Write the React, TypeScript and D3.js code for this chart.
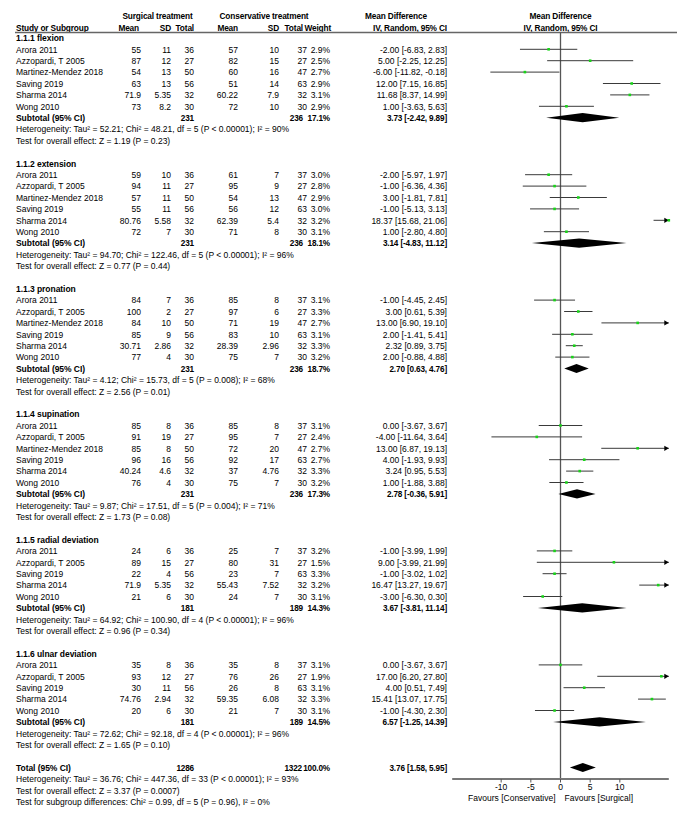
import React from "react";
import * as d3 from "d3";

const groupLabels = [
  "1.1.1 flexion",
  "1.1.2 extension",
  "1.1.3 pronation",
  "1.1.4 supination",
  "1.1.5 radial deviation",
  "1.1.6 ulnar deviation",
];

const studyGroup = [0,0,0,0,0,0, 1,1,1,1,1,1, 2,2,2,2,2,2, 3,3,3,3,3,3, 4,4,4,4,4, 5,5,5,5,5];
const studyNames = [
  "Arora 2011","Azzopardi, T 2005","Martinez-Mendez 2018","Saving 2019","Sharma 2014","Wong 2010",
  "Arora 2011","Azzopardi, T 2005","Martinez-Mendez 2018","Saving 2019","Sharma 2014","Wong 2010",
  "Arora 2011","Azzopardi, T 2005","Martinez-Mendez 2018","Saving 2019","Sharma 2014","Wong 2010",
  "Arora 2011","Azzopardi, T 2005","Martinez-Mendez 2018","Saving 2019","Sharma 2014","Wong 2010",
  "Arora 2011","Azzopardi, T 2005","Saving 2019","Sharma 2014","Wong 2010",
  "Arora 2011","Azzopardi, T 2005","Saving 2019","Sharma 2014","Wong 2010",
];
const surgMean = [55,87,54,63,71.9,73, 59,94,57,55,80.76,72, 84,100,84,85,30.71,77, 85,91,85,96,40.24,76, 24,89,22,71.9,21, 35,93,30,74.76,20];
const surgSD = [11,12,13,13,5.35,8.2, 10,11,11,11,5.58,7, 7,2,10,9,2.86,4, 8,19,8,16,4.6,4, 6,15,4,5.35,6, 8,12,11,2.94,6];
const surgN = [36,27,50,56,32,30, 36,27,50,56,32,30, 36,27,50,56,32,30, 36,27,50,56,32,30, 36,27,56,32,30, 36,27,56,32,30];
const consMean = [57,82,60,51,60.22,72, 61,95,54,56,62.39,71, 85,97,71,83,28.39,75, 85,95,72,92,37,75, 25,80,23,55.43,24, 35,76,26,59.35,21];
const consSD = [10,15,16,14,7.9,10, 7,9,13,12,5.4,8, 8,6,19,10,2.96,7, 8,7,20,17,4.76,7, 7,31,7,7.52,7, 8,26,8,6.08,7];
const consN = [37,27,47,63,32,30, 37,27,47,63,32,30, 37,27,47,63,32,30, 37,27,47,63,32,30, 37,27,63,32,30, 37,27,63,32,30];
const weights = [2.9,2.5,2.7,2.9,3.1,2.9, 3.0,2.8,2.9,3.0,3.2,3.1, 3.1,3.3,2.7,3.1,3.3,3.2, 3.1,2.4,2.7,2.7,3.3,3.2, 3.2,1.5,3.3,3.2,3.1, 3.1,1.9,3.1,3.3,3.1];
const md = [-2,5,-6,12,11.68,1, -2,-1,3,-1,18.37,1, -1,3,13,2,2.32,2, 0,-4,13,4,3.24,1, -1,9,-1,16.47,-3, 0,17,4,15.41,-1];
const ciLow = [-6.83,-2.25,-11.82,7.15,8.37,-3.63, -5.97,-6.36,-1.81,-5.13,15.68,-2.80, -4.45,0.61,6.90,-1.41,0.89,-0.88, -3.67,-11.64,6.87,-1.93,0.95,-1.88, -3.99,-3.99,-3.02,13.27,-6.30, -3.67,6.20,0.51,13.07,-4.30];
const ciHigh = [2.83,12.25,-0.18,16.85,14.99,5.63, 1.97,4.36,7.81,3.13,21.06,4.80, 2.45,5.39,19.10,5.41,3.75,4.88, 3.67,3.64,19.13,9.93,5.53,3.88, 1.99,21.99,1.02,19.67,0.30, 3.67,27.80,7.49,17.75,2.30];

const subN1 = [231,231,231,231,181,181];
const subN2 = [236,236,236,236,189,189];
const subWeight = [17.1,18.1,18.7,17.3,14.3,14.5];
const subMd = [3.73,3.14,2.70,2.78,3.67,6.57];
const subLow = [-2.42,-4.83,0.63,-0.36,-3.81,-1.25];
const subHigh = [9.89,11.12,4.76,5.91,11.14,14.39];
const hetTexts = [
  "Heterogeneity: Tau² = 52.21; Chi² = 48.21, df = 5 (P < 0.00001); I² = 90%",
  "Heterogeneity: Tau² = 94.70; Chi² = 122.46, df = 5 (P < 0.00001); I² = 96%",
  "Heterogeneity: Tau² = 4.12; Chi² = 15.73, df = 5 (P = 0.008); I² = 68%",
  "Heterogeneity: Tau² = 9.87; Chi² = 17.51, df = 5 (P = 0.004); I² = 71%",
  "Heterogeneity: Tau² = 64.92; Chi² = 100.90, df = 4 (P < 0.00001); I² = 96%",
  "Heterogeneity: Tau² = 72.62; Chi² = 92.18, df = 4 (P < 0.00001); I² = 96%",
];
const testTexts = [
  "Test for overall effect: Z = 1.19 (P = 0.23)",
  "Test for overall effect: Z = 0.77 (P = 0.44)",
  "Test for overall effect: Z = 2.56 (P = 0.01)",
  "Test for overall effect: Z = 1.73 (P = 0.08)",
  "Test for overall effect: Z = 0.96 (P = 0.34)",
  "Test for overall effect: Z = 1.65 (P = 0.10)",
];

const totalN1 = 1286;
const totalN2 = 1322;
const totalWeight = 100.0;
const totalMd = 3.76;
const totalLow = 1.58;
const totalHigh = 5.95;
const totalTexts = [
  "Heterogeneity: Tau² = 36.76; Chi² = 447.36, df = 33 (P < 0.00001); I² = 93%",
  "Test for overall effect: Z = 3.37 (P = 0.0007)",
  "Test for subgroup differences: Chi² = 0.99, df = 5 (P = 0.96), I² = 0%",
];

const axisTicks = [-10, -5, 0, 5, 10];
const axisDomain = [-18.25, 18.25];
const favoursLeft = "Favours [Conservative]";
const favoursRight = "Favours [Surgical]";

const W = 686;
const H = 817;
const FONT = "'Liberation Sans', Arial, Helvetica, sans-serif";
const FS = 8.5;
const BFS = 8.2;

const colX = {
  name: 16,
  sMean: 141,
  sSD: 171,
  sN: 194,
  cMean: 238,
  cSD: 279,
  cN: 307,
  cNb: 303,
  weight: 330,
  ci: 447,
};

const fmt2 = (v: number) => v.toFixed(2);
const ciText = (m: number, l: number, h: number) => `${fmt2(m)} [${fmt2(l)}, ${fmt2(h)}]`;

export default function App() {
  const x = d3.scaleLinear().domain(axisDomain).range([452.2, 668.8]);
  const rowY = d3.scaleLinear().domain([1, 68]).range([37.9, 37.9 + 67 * 11.4]);

  type Row =
    | { kind: "group"; row: number; g: number }
    | { kind: "study"; row: number; i: number }
    | { kind: "sub"; row: number; g: number }
    | { kind: "het"; row: number; text: string }
    | { kind: "total"; row: number };

  const rows: Row[] = [];
  let r = 1;
  groupLabels.forEach((_, g) => {
    rows.push({ kind: "group", row: r++, g });
    studyNames.forEach((_, i) => {
      if (studyGroup[i] === g) rows.push({ kind: "study", row: r++, i });
    });
    rows.push({ kind: "sub", row: r++, g });
    rows.push({ kind: "het", row: r++, text: hetTexts[g] });
    rows.push({ kind: "het", row: r++, text: testTexts[g] });
    r++;
  });
  rows.push({ kind: "total", row: r++ });
  totalTexts.forEach((t) => rows.push({ kind: "het", row: r++, text: t }));

  const [dMin, dMax] = axisDomain;
  const clamp = (v: number) => Math.max(dMin, Math.min(dMax, v));
  const axisY = 779;
  const topY = 32.5;
  const bl = 3.2;
  const dh = 4.6;

  const diamond = (m: number, l: number, h: number, y: number) =>
    `M${x(l)},${y} L${x(m)},${y - dh} L${x(h)},${y} L${x(m)},${y + dh} Z`;

  const t = (xx: number, y: number, s: string | number, anchor = "end") => (
    <text x={xx} y={y} textAnchor={anchor}>{s}</text>
  );
  const b = (xx: number, y: number, s: string | number, anchor = "end") => (
    <text x={xx} y={y} textAnchor={anchor} fontWeight="bold" fontSize={BFS} letterSpacing={-0.15}>{s}</text>
  );
  const lb = (xx: number, y: number, s: string) => (
    <text x={xx} y={y} fontWeight="bold" fontSize={8.5} letterSpacing={-0.05}>{s}</text>
  );

  const hb = 30.5;
  return (
    <svg width={W} height={H} style={{ position: "absolute", left: 0, top: 0, background: "#fff" }}
      fontFamily={FONT} fontSize={FS} fill="#000">
      <rect x={0} y={0} width={W} height={H} fill="#fff" />
      {/* Headers */}
      <g fontWeight="bold" fontSize={8.3} letterSpacing={-0.15}>
        <text x={157.5} y={19} textAnchor="middle">Surgical treatment</text>
        <text x={264} y={19} textAnchor="middle">Conservative treatment</text>
        <text x={396} y={19} textAnchor="middle">Mean Difference</text>
        <text x={x(0)} y={19} textAnchor="middle">Mean Difference</text>
        <text x={colX.name} y={hb}>Study or Subgroup</text>
        <text x={colX.sMean - 2} y={hb} textAnchor="end">Mean</text>
        <text x={colX.sSD} y={hb} textAnchor="end">SD</text>
        <text x={colX.sN} y={hb} textAnchor="end">Total</text>
        <text x={colX.cMean} y={hb} textAnchor="end">Mean</text>
        <text x={colX.cSD} y={hb} textAnchor="end">SD</text>
        <text x={303} y={hb} textAnchor="end">Total</text>
        <text x={331} y={hb} textAnchor="end">Weight</text>
        <text x={colX.ci} y={hb} textAnchor="end">IV, Random, 95% CI</text>
        <text x={x(0)} y={hb} textAnchor="middle">IV, Random, 95% CI</text>
      </g>
      <line x1={15} x2={677} y1={topY} y2={topY} stroke="#666" strokeWidth={1.4} />

      {/* zero line */}
      <line x1={x(0)} x2={x(0)} y1={topY} y2={axisY} stroke="#555" strokeWidth={1.3} />

      {rows.map((row, k) => {
        const y = rowY(row.row);
        const by = y + bl;
        if (row.kind === "group") {
          return <g key={k}>{lb(colX.name, by, groupLabels[row.g])}</g>;
        }
        if (row.kind === "het") {
          return <text key={k} x={colX.name} y={by}>{row.text}</text>;
        }
        if (row.kind === "study") {
          const i = row.i;
          const lo = clamp(ciLow[i]);
          const hi = clamp(ciHigh[i]);
          const arrowR = ciHigh[i] > dMax;
          const arrowL = ciLow[i] < dMin;
          const px = x(clamp(md[i]));
          return (
            <g key={k}>
              {t(colX.name, by, studyNames[i], "start")}
              {t(colX.sMean, by, surgMean[i])}
              {t(colX.sSD, by, surgSD[i])}
              {t(colX.sN, by, surgN[i])}
              {t(colX.cMean, by, consMean[i])}
              {t(colX.cSD, by, consSD[i])}
              {t(colX.cN, by, consN[i])}
              {t(colX.weight, by, weights[i].toFixed(1) + "%")}
              {t(colX.ci, by, ciText(md[i], ciLow[i], ciHigh[i]))}
              <line x1={x(lo)} x2={x(hi)} y1={y} y2={y} stroke="#3a3a3a" strokeWidth={1} />
              {arrowR && (
                <path d={`M${x(dMax)},${y} L${x(dMax) - 4.5},${y - 2.6} L${x(dMax) - 4.5},${y + 2.6} Z`} fill="#000" />
              )}
              {arrowL && (
                <path d={`M${x(dMin)},${y} L${x(dMin) + 4.5},${y - 2.6} L${x(dMin) + 4.5},${y + 2.6} Z`} fill="#000" />
              )}
              <rect x={px - 1.3} y={y - 1.3} width={2.6} height={2.6} fill="#19d419" />
            </g>
          );
        }
        if (row.kind === "sub") {
          const g = row.g;
          return (
            <g key={k}>
              {lb(colX.name, by, "Subtotal (95% CI)")}
              {b(colX.sN, by, subN1[g])}
              {b(colX.cNb, by, subN2[g])}
              {b(colX.weight, by, subWeight[g].toFixed(1) + "%")}
              {b(colX.ci, by, ciText(subMd[g], subLow[g], subHigh[g]))}
              <path d={diamond(subMd[g], subLow[g], subHigh[g], y)} fill="#000" />
            </g>
          );
        }
        return (
          <g key={k}>
            {lb(colX.name, by, "Total (95% CI)")}
            {b(colX.sN, by, totalN1)}
            {b(colX.cNb - 1, by, totalN2)}
            {b(colX.weight, by, totalWeight.toFixed(1) + "%")}
            {b(colX.ci, by, ciText(totalMd, totalLow, totalHigh))}
            <path d={diamond(totalMd, totalLow, totalHigh, y)} fill="#000" />
          </g>
        );
      })}

      {/* Axis */}
      <line x1={x(dMin)} x2={x(dMax)} y1={axisY} y2={axisY} stroke="#777" strokeWidth={1.8} />
      {axisTicks.map((v) => (
        <g key={v}>
          <line x1={x(v)} x2={x(v)} y1={axisY} y2={axisY + 3.5} stroke="#555" strokeWidth={1} />
          <text x={x(v)} y={789.5} textAnchor="middle">{v}</text>
        </g>
      ))}
      <text x={x(0) - 5} y={801} textAnchor="end">{favoursLeft}</text>
      <text x={x(0) + 4} y={801} textAnchor="start">{favoursRight}</text>
    </svg>
  );
}
